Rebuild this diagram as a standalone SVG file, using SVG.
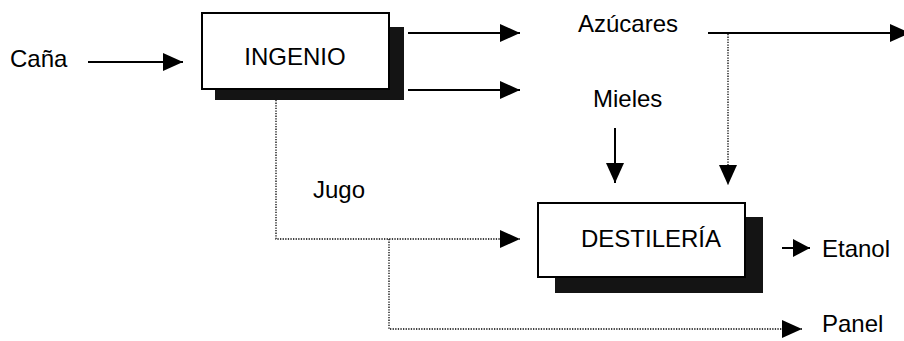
<svg xmlns="http://www.w3.org/2000/svg" width="904" height="341" viewBox="0 0 904 341">
  <style>
    .lbl { font-family: "Liberation Sans", Arial, sans-serif; font-size: 24px; fill: #000; }
    .box { fill: #fff; stroke: #000; stroke-width: 2; }
    .shadow { fill: #141414; }
    .solid { fill: none; stroke: #000; stroke-width: 2; }
    .dot { fill: none; stroke: #000; stroke-width: 1.3; stroke-dasharray: 1.3 1.3; }
  </style>
  <defs>
    <marker id="ah" markerUnits="userSpaceOnUse" markerWidth="20" markerHeight="18" refX="20" refY="9" orient="auto">
      <path d="M0,0 L20,9 L0,18 Z" fill="#000"/>
    </marker>
    <marker id="ahs" markerUnits="userSpaceOnUse" markerWidth="17" markerHeight="18" refX="17" refY="9" orient="auto">
      <path d="M0,0 L17,9 L0,18 Z" fill="#000"/>
    </marker>
  </defs>

  <g id="cana">
    <text class="lbl" x="10" y="67">Caña</text>
  </g>

  <g id="ingenio">
    <rect class="shadow" x="215" y="27" width="189" height="73"/>
    <rect class="box" x="202" y="13" width="187" height="76"/>
    <text class="lbl" x="295" y="65" text-anchor="middle">INGENIO</text>
  </g>

  <g id="azucares">
    <text class="lbl" x="578" y="32">Azúcares</text>
  </g>

  <g id="mieles">
    <text class="lbl" x="593" y="107">Mieles</text>
  </g>

  <g id="jugo">
    <text class="lbl" x="313" y="198">Jugo</text>
  </g>

  <g id="destileria">
    <rect class="shadow" x="555" y="217" width="208" height="76"/>
    <rect class="box" x="538" y="203" width="207" height="74"/>
    <text class="lbl" x="651" y="247" text-anchor="middle">DESTILERÍA</text>
  </g>

  <g id="etanol">
    <text class="lbl" x="822" y="257">Etanol</text>
  </g>

  <g id="panel">
    <text class="lbl" x="822" y="332">Panel</text>
  </g>

  <g id="connectors">
    <line class="solid" x1="88" y1="62" x2="183" y2="62" marker-end="url(#ah)"/>
    <line class="solid" x1="408" y1="33" x2="520" y2="33" marker-end="url(#ah)"/>
    <line class="solid" x1="408" y1="90" x2="520" y2="90" marker-end="url(#ah)"/>
    <line class="solid" x1="708" y1="33" x2="910" y2="33" marker-end="url(#ah)"/>
    <line class="dot" x1="728" y1="34" x2="728" y2="185" marker-end="url(#ah)"/>
    <line class="solid" x1="615" y1="128" x2="615" y2="183" marker-end="url(#ah)"/>
    <polyline class="dot" points="276,100 276,239 520,239" marker-end="url(#ah)"/>
    <polyline class="dot" points="389,239 389,329 802,329" marker-end="url(#ah)"/>
    <line class="solid" x1="782" y1="248" x2="810" y2="248" marker-end="url(#ahs)"/>
  </g>
</svg>
